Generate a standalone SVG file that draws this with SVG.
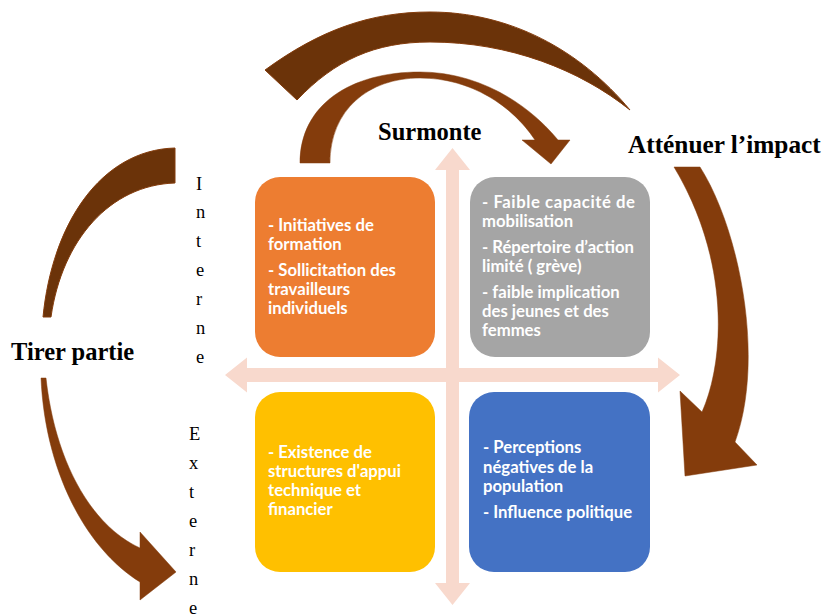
<svg xmlns="http://www.w3.org/2000/svg" width="827" height="614" viewBox="0 0 827 614">
<style>
.box text{font-family:Lato,"Open Sans",sans-serif;font-weight:bold;font-size:16.7px;fill:#fff}
.lbl{font-family:"Liberation Serif",serif;font-weight:bold;font-size:24.5px;fill:#000}
.vt{font-family:"Liberation Serif",serif;font-size:18.5px;fill:#000}
.dk{fill:#6B3309;stroke:#843C0C;stroke-width:1}
.md{fill:#843C0C;stroke:#843C0C;stroke-width:0.5}
.cr{fill:#F8D9CD}
</style>
<rect width="827" height="614" fill="#fff"/>
<g id="connectors">
<polygon class="cr" points="452.5,148 470,170 459,170 459,583 470,583 452.5,605 435,583 446,583 446,170 435,170"/>
<polygon class="cr" points="225,375 247,357.5 247,368 658,368 658,357.5 680,375 658,392.5 658,382 247,382 247,392.5"/>
<path class="dk" d="M265,70 C320,30 370,12 430,12 C510,12 580,50 630,110 C580,70 510,42 430,42 C375,42 335,60 297,100 Z"/>
<path class="md" d="M300,163 C300,105 350,72 420,72 C475,72 525,100 558,140 L570,140 L551,164 L522,140 L535,140 C512,105 470,78 420,78 C368,78 330,110 330,163 Z"/>
<path class="dk" d="M175,148 C100,150 52,225 43,317 L51,317 C62,240 110,185 175,183 Z"/>
<path class="md" d="M41,378 L46,378 C55,460 90,525 140,548 L140,532 L176,572 L140,600 L140,582 C85,548 45,470 41,378 Z"/>
<path class="md" d="M674,167 L700,167 C740,230 765,360 735,442 L757,465 L685,476 L680,391 L702,412 C725,360 730,260 674,167 Z"/>
</g>
<g id="node-interne-forces" class="box">
<rect x="255" y="177" width="180" height="180" rx="25" fill="#ED7D31"/>
<text x="268" y="231">- Initiatives de</text>
<text x="268" y="250">formation</text>
<text x="268" y="276">- Sollicitation des</text>
<text x="268" y="295">travailleurs</text>
<text x="268" y="314">individuels</text>
</g>
<g id="node-interne-faiblesses" class="box">
<rect x="470" y="177" width="180" height="180" rx="25" fill="#A5A5A5"/>
<text x="482" y="208" textLength="153" lengthAdjust="spacing">- Faible capacité de</text>
<text x="482" y="227">mobilisation</text>
<text x="482" y="253">- Répertoire d’action</text>
<text x="482" y="272">limité ( grève)</text>
<text x="482" y="298">- faible implication</text>
<text x="482" y="317">des jeunes et des</text>
<text x="482" y="336">femmes</text>
</g>
<g id="node-externe-opportunites" class="box">
<rect x="255" y="392" width="180" height="180" rx="25" fill="#FFC000"/>
<text x="268" y="458">- Existence de</text>
<text x="268" y="477">structures d'appui</text>
<text x="268" y="496">technique et</text>
<text x="268" y="515">financier</text>
</g>
<g id="node-externe-menaces" class="box">
<rect x="469" y="392" width="181" height="180" rx="25" fill="#4472C4"/>
<text x="483" y="453">- Perceptions</text>
<text x="483" y="473">négatives de la</text>
<text x="483" y="492">population</text>
<text x="483" y="518">- Influence politique</text>
</g>
<g id="label-surmonte"><text class="lbl" x="378" y="140">Surmonte</text></g>
<g id="label-attenuer"><text class="lbl" x="628" y="153" style="font-size:25.3px">Atténuer l’impact</text></g>
<g id="label-tirer"><text class="lbl" x="11" y="360">Tirer partie</text></g>
<g id="label-interne" class="vt">
<text x="196" y="190">I</text><text x="196" y="218">n</text><text x="196" y="247">t</text><text x="196" y="276">e</text><text x="196" y="305">r</text><text x="196" y="334">n</text><text x="196" y="363">e</text>
</g>
<g id="label-externe" class="vt">
<text x="189" y="440">E</text><text x="189" y="469">x</text><text x="189" y="498">t</text><text x="189" y="527">e</text><text x="189" y="556">r</text><text x="189" y="585">n</text><text x="189" y="614">e</text>
</g>
</svg>
